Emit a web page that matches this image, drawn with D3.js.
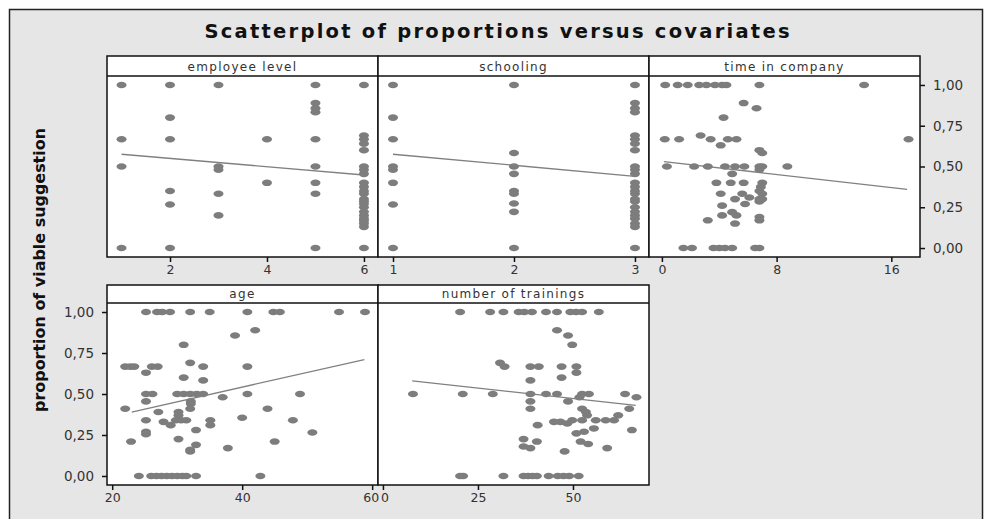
<!DOCTYPE html>
<html>
<head>
<meta charset="utf-8">
<script src="https://cdn.jsdelivr.net/npm/d3@7"></script>
<style>
  body { margin: 0; background: #fff; }
  svg { display: block; font-family: "DejaVu Sans", Verdana, sans-serif; }
</style>
</head>
<body>
<div id="chart"></div>
<script>
// proportion of viable suggestions vs each covariate
const employeeLevel = [
  [1,1],[1,0.667],[1,0.5],[1,0],
  [2,1],[2,0.8],[2,0.667],[2,0.35],[2,0.267],[2,0],
  [3,1],[3,0.5],[3,0.48],[3,0.333],[3,0.2],
  [4,0.667],[4,0.4],
  [5,1],[5,0.889],[5,0.857],[5,0.833],[5,0.667],[5,0.5],[5,0.4],[5,0.333],[5,0],
  [6,1],[6,0.69],[6,0.667],[6,0.64],[6,0.6],[6,0.5],[6,0.48],[6,0.455],[6,0.4],[6,0.375],
  [6,0.35],[6,0.333],[6,0.3],[6,0.286],[6,0.27],[6,0.25],[6,0.222],[6,0.2],[6,0.18],
  [6,0.167],[6,0.15],[6,0.13],[6,0]
];
const schooling = [
  [1,1],[1,0.8],[1,0.667],[1,0.5],[1,0.48],[1,0.4],[1,0.267],[1,0],
  [2,1],[2,0.583],[2,0.5],[2,0.455],[2,0.35],[2,0.333],[2,0.273],[2,0.222],[2,0],
  [3,1],[3,0.889],[3,0.857],[3,0.833],[3,0.69],[3,0.667],[3,0.64],[3,0.6],[3,0.5],
  [3,0.48],[3,0.455],[3,0.4],[3,0.375],[3,0.35],[3,0.333],[3,0.3],[3,0.286],[3,0.25],
  [3,0.222],[3,0.2],[3,0.18],[3,0.15],[3,0.13],[3,0]
];
const timeInCompany = [
  [0.23,1],[1.1,1],[1.8,1],[2.6,1],[3.1,1],[3.7,1],[4.2,1],[4.5,1],[6.8,1],[14.1,1],
  [5.7,0.889],[6.6,0.857],[4.3,0.8],[2.7,0.69],
  [0.2,0.667],[1.2,0.667],[3.4,0.667],[4.6,0.667],[5.2,0.667],[17.2,0.667],
  [4.1,0.63],[6.8,0.6],[7.0,0.583],
  [0.35,0.5],[2.25,0.5],[3.2,0.5],[4.4,0.5],[5.1,0.5],[5.75,0.5],[6.8,0.5],[7.0,0.5],[8.75,0.5],
  [4.9,0.455],[6.8,0.48],
  [3.8,0.4],[4.8,0.4],[5.7,0.4],[7.0,0.4],[6.9,0.375],
  [4.1,0.333],[5.6,0.333],[6.8,0.35],[7.0,0.333],[6.1,0.31],[5.1,0.3],[6.8,0.3],[7.0,0.3],
  [6.8,0.286],[5.8,0.27],[4.2,0.26],
  [4.9,0.22],[4.2,0.2],[5.2,0.2],[6.8,0.19],[3.2,0.17],[6.8,0.17],[5.1,0.15],
  [1.5,0],[2.1,0],[3.6,0],[4.0,0],[4.4,0],[4.9,0],[6.5,0],[6.8,0]
];
const age = [
  [25.2,1],[26.9,1],[27.7,1],[28.9,1],[32,1],[35,1],[40.8,1],[44.8,1],[45.8,1],[54.9,1],[58.9,1],
  [42,0.889],[38.9,0.857],[31,0.8],[32,0.69],
  [22,0.667],[22.8,0.667],[23.4,0.667],[26.1,0.667],[27,0.667],[34,0.667],[40.8,0.667],
  [25.2,0.63],[31,0.6],[34,0.583],
  [25.2,0.5],[26.2,0.5],[30,0.5],[31,0.5],[32,0.5],[33,0.5],[34,0.5],[40.8,0.5],[48.9,0.5],
  [37,0.48],[25.2,0.455],[32.1,0.455],[32.1,0.44],
  [22,0.41],[32,0.41],[43.9,0.41],[27.1,0.39],[30.2,0.39],[30.2,0.37],[40,0.355],
  [25.2,0.34],[29.8,0.34],[30.6,0.34],[31.4,0.34],[35.1,0.34],[47.8,0.34],[27.9,0.33],
  [29,0.31],[35.1,0.31],
  [32.9,0.28],[25.2,0.27],[50.8,0.265],[25.2,0.255],[30.2,0.225],[22.9,0.21],[45,0.21],
  [32.9,0.19],[37.8,0.17],[32,0.16],[32,0.15],
  [24.1,0],[26,0],[26.8,0],[27.6,0],[28.4,0],[29.2,0],[30,0],[30.8,0],[31.4,0],[32.9,0],[42.8,0]
];
const trainings = [
  [20.3,1],[28.2,1],[31.7,1],[35.7,1],[37.2,1],[39.2,1],[42.9,1],[45.8,1],[49.3,1],[50.8,1],
  [52.4,1],[56.8,1],
  [45.8,0.889],[48.7,0.857],[49.8,0.8],[30.8,0.69],
  [32,0.667],[38.8,0.667],[41,0.667],[47,0.667],[50.9,0.667],
  [50.9,0.63],[47,0.6],[38.8,0.583],
  [7.9,0.5],[21,0.5],[28.9,0.5],[38.8,0.5],[42.9,0.5],[45.8,0.5],[52.4,0.5],[54.2,0.5],[63.7,0.5],
  [66.7,0.48],[51.7,0.48],[48.7,0.455],[38.8,0.455],
  [64.8,0.41],[38.8,0.41],[52.4,0.41],[53.4,0.39],[61.9,0.37],[53.7,0.37],
  [49.8,0.34],[52.4,0.34],[56,0.34],[58.6,0.34],[60.8,0.34],[45,0.33],[46.7,0.33],[48.5,0.32],
  [40.7,0.31],
  [55.5,0.29],[65.5,0.28],[52.9,0.27],[50.9,0.26],[37,0.225],[40.5,0.21],[52,0.21],[54,0.195],
  [37,0.18],[38.8,0.17],[59,0.17],[47.8,0.15],
  [20.3,0],[21.1,0],[31.7,0],[37,0],[38.2,0],[39.4,0],[40.5,0],[43.6,0],[46,0],[47.5,0],
  [49,0],[51.5,0]
];

// fitted lines (end points)
const fitEmployee = [[1,0.575],[6,0.448]];
const fitSchooling = [[1,0.575],[3,0.44]];
const fitTime = [[0.14,0.53],[17.1,0.36]];
const fitAge = [[23,0.39],[58.8,0.71]];
const fitTrainings = [[7.7,0.58],[66.5,0.43]];

const panelNames = ["employee level", "schooling", "time in company", "age", "number of trainings"];
const xTicks = [[2,4,6], [1,2,3], [0,8,16], [20,40,60], [0,25,50]];
const yTicks = [0, 0.25, 0.5, 0.75, 1];

const width = 985, height = 519;
const cols = [107, 378, 649, 920];
const rows = [
  {top: 56, strip: 20, bottom: 257},
  {top: 285, strip: 18, bottom: 485}
];

const panels = [
  {name: panelNames[0], pts: employeeLevel, fit: fitEmployee, dom: [0.70, 6.29], ticks: xTicks[0], c: 0, r: 0},
  {name: panelNames[1], pts: schooling, fit: fitSchooling, dom: [0.876, 3.116], ticks: xTicks[1], c: 1, r: 0},
  {name: panelNames[2], pts: timeInCompany, fit: fitTime, dom: [-0.9, 18.0], ticks: xTicks[2], c: 2, r: 0},
  {name: panelNames[3], pts: age, fit: fitAge, dom: [19.2, 60.9], ticks: xTicks[3], c: 0, r: 1},
  {name: panelNames[4], pts: trainings, fit: fitTrainings, dom: [-1.3, 70], ticks: xTicks[4], c: 1, r: 1}
];

const comma = d3.formatLocale({decimal: ",", thousands: ".", grouping: [3], currency: ["", ""]}).format(".2f");

const svg = d3.select("#chart").append("svg")
  .attr("width", width)
  .attr("height", height);

svg.append("rect")
  .attr("x", 9.5).attr("y", 9.5)
  .attr("width", 973).attr("height", 530)
  .attr("fill", "#e6e6e6")
  .attr("stroke", "#222")
  .attr("stroke-width", 1.5);

svg.append("text")
  .attr("x", 497).attr("y", 38)
  .attr("text-anchor", "middle")
  .attr("textLength", 585)
  .attr("lengthAdjust", "spacing")
  .style("font-size", "19.5px")
  .style("font-weight", "bold")
  .style("fill", "#111")
  .text("Scatterplot of proportions versus covariates");

svg.append("text")
  .attr("transform", "translate(45,270) rotate(-90)")
  .attr("text-anchor", "middle")
  .attr("textLength", 284)
  .attr("lengthAdjust", "spacingAndGlyphs")
  .style("font-size", "16px")
  .style("font-weight", "bold")
  .style("fill", "#111")
  .text("proportion of viable suggestion");

panels.forEach(p => {
  const row = rows[p.r];
  const x0 = cols[p.c], x1 = cols[p.c + 1];
  const plotTop = row.top + row.strip;
  const x = d3.scaleLinear().domain(p.dom).range([x0, x1]);
  const y = d3.scaleLinear().domain([-0.055, 1.055]).range([row.bottom, plotTop]);
  const g = svg.append("g");

  g.append("rect")
    .attr("x", x0).attr("y", row.top)
    .attr("width", x1 - x0).attr("height", row.bottom - row.top)
    .attr("fill", "#fff");

  g.selectAll("ellipse")
    .data(p.pts)
    .enter()
    .append("ellipse")
      .attr("cx", d => x(d[0]))
      .attr("cy", d => y(d[1]))
      .attr("rx", 5)
      .attr("ry", 3.3)
      .attr("fill", "#7d7d7d");

  g.append("path")
    .datum(p.fit)
    .attr("d", d3.line().x(d => x(d[0])).y(d => y(d[1])))
    .attr("fill", "none")
    .attr("stroke", "#808080")
    .attr("stroke-width", 1.3);

  // strip
  g.append("line")
    .attr("x1", x0).attr("x2", x1)
    .attr("y1", plotTop).attr("y2", plotTop)
    .attr("stroke", "#111").attr("stroke-width", 1.5);
  g.append("text")
    .attr("x", (x0 + x1) / 2)
    .attr("y", plotTop - 5)
    .attr("text-anchor", "middle")
    .style("font-size", "12px")
    .style("letter-spacing", "1.3px")
    .style("fill", "#333")
    .text(p.name);

  g.append("rect")
    .attr("x", x0).attr("y", row.top)
    .attr("width", x1 - x0).attr("height", row.bottom - row.top)
    .attr("fill", "none")
    .attr("stroke", "#111")
    .attr("stroke-width", 1.5);

  // x axis
  const xa = g.append("g")
    .attr("transform", `translate(0,${row.bottom})`)
    .call(d3.axisBottom(x).tickValues(p.ticks).tickSize(5).tickPadding(3).tickFormat(d3.format("d")));
  xa.select(".domain").remove();
  xa.selectAll("line").attr("stroke", "#111").attr("stroke-width", 1.5);
  xa.selectAll("text").style("font-size", "12.5px").style("fill", "#333").style("font-family", "DejaVu Sans, sans-serif");
  // "60" and "0" sit side by side at the column join, as in the original
  if (p.name === "age") xa.selectAll("text").filter(d => d === 60).attr("dx", -1.5);
  if (p.name === "number of trainings") xa.selectAll("text").filter(d => d === 0).attr("dx", 1.5);
});

// y axes: right of the top row, left of the bottom row
const yTop = d3.scaleLinear().domain([-0.055, 1.055]).range([rows[0].bottom, rows[0].top + rows[0].strip]);
const yBot = d3.scaleLinear().domain([-0.055, 1.055]).range([rows[1].bottom, rows[1].top + rows[1].strip]);

const yr = svg.append("g")
  .attr("transform", `translate(${cols[3]},0)`)
  .call(d3.axisRight(yTop).tickValues(yTicks).tickSize(5).tickPadding(8).tickFormat(comma));
const yl = svg.append("g")
  .attr("transform", `translate(${cols[0]},0)`)
  .call(d3.axisLeft(yBot).tickValues(yTicks).tickSize(5).tickPadding(8).tickFormat(comma));

[yr, yl].forEach(a => {
  a.select(".domain").remove();
  a.selectAll("line").attr("stroke", "#111").attr("stroke-width", 1.5);
  a.selectAll("text").style("font-size", "13.5px").style("fill", "#333").style("font-family", "DejaVu Sans, sans-serif");
});
</script>
</body>
</html>
